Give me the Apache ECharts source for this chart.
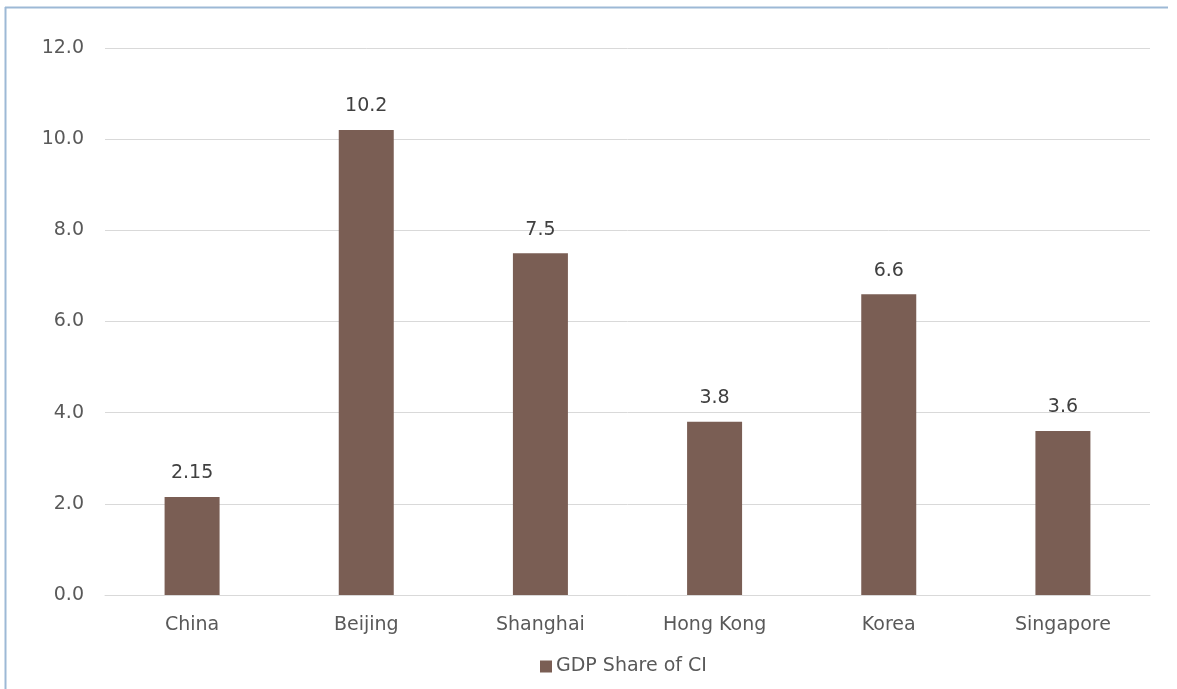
<!DOCTYPE html>
<html><head><meta charset="utf-8">
<script src="https://cdn.jsdelivr.net/npm/echarts@6/dist/echarts.min.js"></script>
<style>html,body{margin:0;padding:0;background:#fff}#c{width:1177px;height:689px}</style>
</head><body><div id="c"></div>
<script>
const categories = ['China','Beijing','Shanghai','Hong Kong','Korea','Singapore'];
const gdpShare = [2.15, 10.2, 7.5, 3.8, 6.6, 3.6];
const seriesName = 'GDP Share of CI';
const labelText = ['2.15','10.2','7.5','3.8','6.6','3.6'];

const chart = echarts.init(document.getElementById('c'));
const font = '"DejaVu Sans", sans-serif';
chart.setOption({
  animation: false,
  textStyle: {fontFamily: font},
  graphic: [
    {type:'line', shape:{x1:5.5,y1:7,x2:5.5,y2:689}, style:{stroke:'#9DB9D6', lineWidth:2}},
    {type:'line', shape:{x1:5,y1:7.5,x2:1168,y2:7.5}, style:{stroke:'#9DB9D6', lineWidth:2}}
  ],
  grid: {left:105, right:27, top:48, bottom:94, containLabel:false},
  legend: {
    bottom: 8, left: 535, itemWidth: 12, itemHeight: 12, icon: 'rect', itemGap: 4,
    textStyle: {fontSize: 19, color: '#595959', fontFamily: font, padding:[0,0,0,-1]},
    data: [seriesName]
  },
  xAxis: {
    type: 'category', data: categories,
    axisLine: {lineStyle: {color: '#D9D9D9', width: 1}},
    axisTick: {show: false},
    axisLabel: {fontSize: 19, color: '#595959', margin: 21, fontFamily: font}
  },
  yAxis: {
    type: 'value', min: 0, max: 12, interval: 2,
    axisLine: {show: false}, axisTick: {show: false},
    splitLine: {lineStyle: {color: '#D9D9D9', width: 1}},
    axisLabel: {fontSize: 19, color: '#595959', margin: 21, fontFamily: font,
      padding: [3,0,0,0], formatter: v => v.toFixed(1)}
  },
  series: [{
    name: seriesName, type: 'bar', data: gdpShare, barWidth: 55,
    itemStyle: {color: '#7A5E54'},
    label: {show: true, position: 'top', distance: 14, fontSize: 19, color: '#404040', fontFamily: font,
      formatter: p => labelText[p.dataIndex]}
  }]
});
</script></body></html>
